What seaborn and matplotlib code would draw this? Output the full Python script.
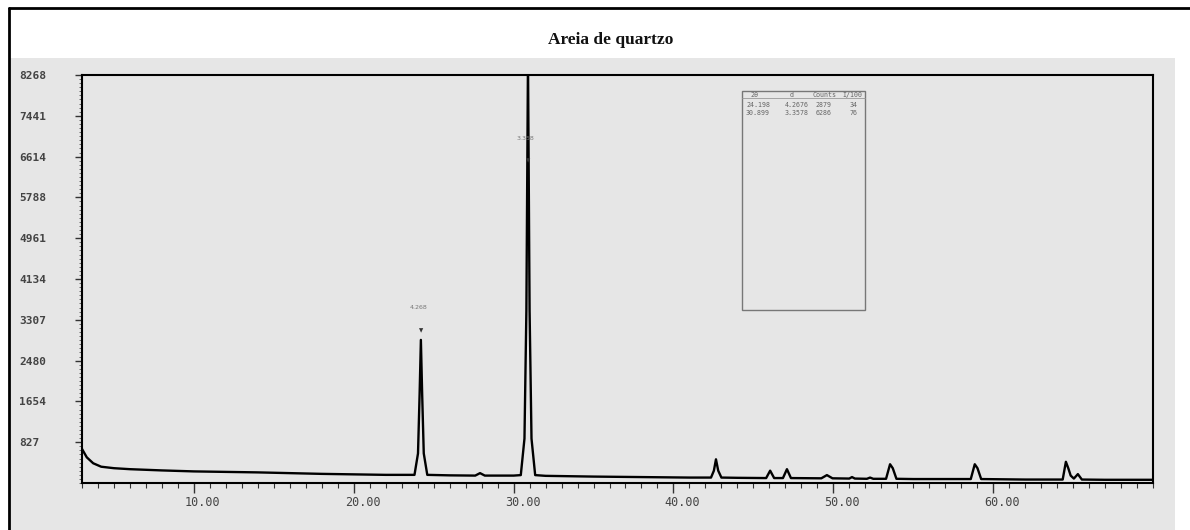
import matplotlib
matplotlib.use("Agg")
import matplotlib.pyplot as plt
import seaborn as sns
from matplotlib.patches import Rectangle
from matplotlib.lines import Line2D
from matplotlib.ticker import FixedLocator, MultipleLocator
from matplotlib.transforms import ScaledTranslation

# diffractogram vertices (2-theta, counts)
two_theta = [3.0, 3.3, 3.7, 4.2, 5.0, 6.0, 8.0, 10.0, 12.0, 14.0, 16.0, 18.0, 20.0, 22.0,
             23.8, 24.02, 24.12, 24.2, 24.28, 24.38, 24.6,
             26.0, 27.6, 27.9, 28.2, 30.0,
             30.45, 30.68, 30.8, 30.9, 31.0, 31.12, 31.35,
             32.0, 35.0, 38.0, 41.0,
             42.35, 42.53, 42.66, 42.8, 43.0,
             44.0, 45.8, 46.05, 46.3, 46.85, 47.1, 47.35,
             49.25, 49.6, 49.95, 51.0, 51.17, 51.35, 52.1, 52.3, 52.5,
             53.3, 53.55, 53.72, 53.95,
             55.0, 58.6, 58.85, 59.02, 59.25,
             62.0, 64.35, 64.55, 64.7, 64.85, 65.05, 65.3, 65.55, 67.0, 70.0]
counts = [690, 520, 400, 330, 300, 280, 255, 235, 225, 215, 200, 185, 175, 165,
          165, 600, 1800, 2900, 1800, 600, 165,
          155, 150, 200, 150, 150,
          160, 900, 3500, 8600, 3500, 900, 160,
          145, 130, 120, 110,
          110, 250, 480, 250, 110,
          105, 100, 250, 100, 100, 280, 100,
          95, 160, 95, 90, 120, 90, 85, 110, 85,
          85, 380, 300, 85,
          80, 80, 380, 300, 80,
          70, 70, 430, 300, 150, 90, 180, 70, 65, 65]

y_step = 826.8
y_ticks = [y_step * k for k in range(1, 11)]
y_labels = ["827", "1654", "2480", "3307", "4134", "4961", "5788", "6614", "7441", "8268"]
x_ticks = [10, 20, 30, 40, 50, 60]
x_labels = ["10.00", "20.00", "30.00", "40.00", "50.00", "60.00"]

peak_pos = [24.2, 30.9]
peak_d = ["4.268", "3.358"]
peak_label_y = [3550, 6980]
peak_mark_y = [3090, 6540]

table_head = ["2θ", "d", "Counts", "I/100"]
table_rows = [["24.198", "4.2676", "2879", "34"],
              ["30.899", "3.3578", "6286", "76"]]

W, H = 1190, 530
sns.set_theme(style="ticks")
fig = plt.figure(figsize=(W / 100, H / 100), dpi=100)
fig.patch.set_facecolor("white")

def fx(px):
    return px / W

def fy(py):
    return 1 - py / H

# grey panel and outer frame
fig.add_artist(Rectangle((fx(9), 0), fx(1175 - 9), fy(58), transform=fig.transFigure,
                         facecolor="#e6e6e6", edgecolor="none", zorder=0))
fig.add_artist(Line2D([fx(9), 1], [fy(8), fy(8)], transform=fig.transFigure, color="black", lw=2))
fig.add_artist(Line2D([fx(9), fx(9)], [0, fy(8)], transform=fig.transFigure, color="black", lw=2))

fig.text(fx(611), fy(40), "Areia de quartzo", ha="center", va="center",
         family=["Liberation Serif", "DejaVu Serif"], weight="bold", fontsize=12.5, color="#111")

ax = fig.add_axes([fx(82), fy(483), fx(1153 - 82), (483 - 75) / H])
ax.set_facecolor("#e6e6e6")

sns.lineplot(x=two_theta, y=counts, ax=ax, color="black", lw=1.7, estimator=None, sort=False)

ax.set_xlim(3, 70)
ax.set_ylim(0, 8268)
ax.xaxis.set_major_locator(FixedLocator(x_ticks))
ax.set_xticklabels(x_labels)
ax.xaxis.set_minor_locator(MultipleLocator(1))
ax.yaxis.set_major_locator(FixedLocator(y_ticks))
ax.set_yticklabels(y_labels)
ax.yaxis.set_minor_locator(MultipleLocator(y_step / 10))
ax.set_xlabel("")
ax.set_ylabel("")

for s in ax.spines.values():
    s.set_color("black")
    s.set_linewidth(1.5)

ax.tick_params(axis="x", which="major", direction="out", length=7, width=1, color="#333",
               pad=2, labelsize=8.5, labelcolor="#444")
ax.tick_params(axis="x", which="minor", direction="out", length=3.5, width=0.8, color="#333")
ax.tick_params(axis="y", which="major", direction="out", length=5, width=1, color="#333",
               pad=40, labelsize=8, labelcolor="#444")
ax.tick_params(axis="y", which="minor", direction="out", length=2.5, width=0.6, color="#555")

for lab in ax.get_xticklabels():
    lab.set_family(["DejaVu Sans Mono"])
    lab.set_transform(lab.get_transform() + ScaledTranslation(9 / 100, 0, fig.dpi_scale_trans))
for lab in ax.get_yticklabels():
    lab.set_family(["DejaVu Sans Mono"])
    lab.set_ha("left")
    lab.set_weight("bold")

# peak labels
for x, d, ly, my in zip(peak_pos, peak_d, peak_label_y, peak_mark_y):
    ax.text(x - 0.15, ly, d, ha="center", va="center", fontsize=4.5, color="#777")
    ax.text(x, my, "▼", ha="center", va="center", fontsize=4, color="#333")

# peak table
ax.add_patch(Rectangle((0.616, 0.424), 0.731 - 0.616, 0.961 - 0.424, transform=ax.transAxes,
                       facecolor="none", edgecolor="#777", lw=1))
ax.add_line(Line2D([0.616, 0.731], [0.944, 0.944], transform=ax.transAxes, color="#999", lw=0.6))
head_x = [0.628, 0.663, 0.6825, 0.7096]
head_ha = ["center", "center", "left", "left"]
for t, x, ha in zip(table_head, head_x, head_ha):
    ax.text(x, 0.952, t, transform=ax.transAxes, ha=ha, va="center",
            fontsize=4.8, family="DejaVu Sans Mono", color="#666")
col_x = [0.620, 0.656, 0.685, 0.717]
for row, ry in zip(table_rows, [0.926, 0.907]):
    for t, x in zip(row, col_x):
        ax.text(x, ry, t, transform=ax.transAxes, ha="left", va="center",
                fontsize=4.8, family="DejaVu Sans Mono", color="#666")

fig.savefig("out.png", dpi=100)
